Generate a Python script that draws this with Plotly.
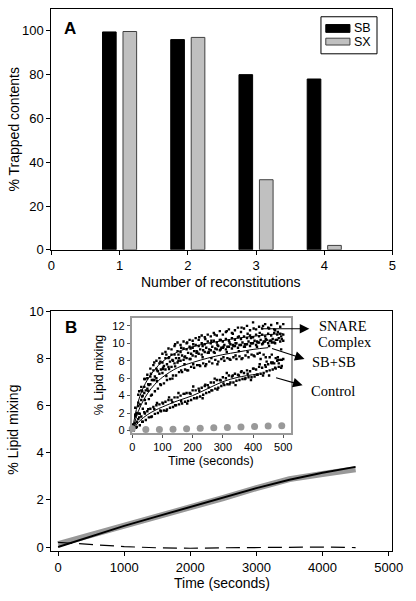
import plotly.graph_objects as go

W, H = 416, 601

# ---------------- Panel A data ----------------
recon = [1, 2, 3, 4]
sb_vals = [99.5, 96.0, 80.0, 78.0]
sx_vals = [99.7, 97.0, 32.0, 2.0]

# ---------------- Panel B main data ----------------
t_long = [0, 500, 1000, 1500, 2000, 2500, 3000, 3500, 4000, 4500]
mix_black = [0.0, 0.45, 0.9, 1.3, 1.7, 2.1, 2.5, 2.85, 3.15, 3.4]
mix_gray = [0.12, 0.5, 0.88, 1.28, 1.68, 2.08, 2.5, 2.88, 3.1, 3.3]
mix_dash = [0.2, 0.1, 0.02, -0.03, -0.05, -0.03, -0.02, 0.0, 0.0, -0.02]

# ---------------- Inset data ----------------
T1 = [0, 10, 20, 30, 40, 50, 60, 70, 80, 90, 100, 110, 120, 130, 140, 150, 160, 170, 180, 190,
      200, 210, 220, 230, 240, 250, 260, 270, 280, 290, 300, 310, 320, 330, 340, 350, 360, 370,
      380, 390, 400, 410, 420, 430, 440, 450, 460, 470, 480, 490, 500]
T2 = [5, 15, 25, 35, 45, 55, 65, 75, 85, 95, 105, 115, 125, 135, 145, 155, 165, 175, 185, 195,
      205, 215, 225, 235, 245, 255, 265, 275, 285, 295, 305, 315, 325, 335, 345, 355, 365, 375,
      385, 395, 405, 415, 425, 435, 445, 455, 465, 475, 485, 495]
T3 = [2, 12, 23, 33, 42, 53, 62, 73, 82, 93, 102, 113, 122, 133, 142, 153, 162, 173, 182, 193,
      202, 213, 222, 233, 242, 253, 262, 273, 282, 293, 302, 313, 322, 333, 342, 353, 362, 373,
      382, 393, 402, 413, 422, 433, 442, 453, 462, 473, 482, 493]

snare_a = [0.3, 2.6, 4.1, 5.0, 5.9, 6.4, 7.1, 7.5, 8.0, 8.3, 8.8, 9.0, 9.4, 9.3, 9.7, 10.1, 9.8,
           10.2, 10.0, 10.4, 10.3, 10.6, 10.4, 10.9, 10.7, 11.0, 10.8, 11.2, 10.9, 11.4, 11.0,
           11.3, 11.6, 11.2, 11.5, 11.8, 11.3, 11.7, 12.0, 11.5, 12.4, 11.6, 11.9, 11.7, 12.2,
           11.8, 12.1, 11.6, 12.3, 11.9, 12.2]
snare_b = [0.1, 1.8, 3.2, 4.6, 5.0, 6.0, 6.2, 6.9, 7.1, 7.7, 7.8, 8.3, 8.3, 8.7, 8.7, 9.1, 9.0,
           9.4, 9.3, 9.6, 9.5, 9.8, 9.7, 10.0, 9.9, 10.2, 10.0, 10.3, 10.1, 10.4, 10.2, 10.5,
           10.3, 10.6, 10.4, 10.7, 10.5, 10.8, 10.6, 10.9, 10.7, 11.0, 10.8, 11.0, 10.8, 11.1,
           10.9, 11.2, 11.0, 11.1, 11.0]
snare_c = [0.5, 2.0, 3.0, 4.0, 4.6, 5.2, 5.8, 6.2, 6.8, 7.0, 7.4, 7.6, 7.9, 8.0, 8.3, 8.3, 8.6,
           8.5, 8.9, 8.8, 9.1, 9.0, 9.3, 9.2, 9.5, 9.3, 9.6, 9.4, 9.7, 9.5, 9.8, 9.6, 9.9, 9.7,
           10.0, 9.8, 10.1, 9.9, 10.2, 10.0, 10.3, 10.1, 10.4, 10.2, 10.4, 10.3, 10.5, 10.4,
           10.6, 10.5]
snare_d = [0.7, 1.8, 4.5, 4.5, 5.9, 5.3, 6.5, 7.8, 6.9, 7.9, 7.2, 8.7, 8.4, 8.1, 9.9, 8.7, 9.5,
           8.4, 10.1, 9.4, 9.9, 9.1, 10.7, 9.7, 10.5, 9.0, 10.3, 11.0, 9.8, 10.4, 9.6, 11.4, 10.1,
           11.1, 10.0, 10.8, 11.8, 9.9, 11.1, 10.6, 11.7, 10.2, 11.2, 12.0, 10.5, 11.7, 10.1,
           11.5, 11.3, 10.8]

sbsb_a = [0.2, 1.6, 2.8, 3.5, 4.3, 4.8, 5.3, 5.8, 6.0, 6.5, 6.6, 7.0, 7.3, 7.3, 7.7, 7.8, 8.0,
          8.1, 8.3, 8.2, 8.6, 8.5, 8.8, 8.7, 9.0, 8.9, 9.2, 9.0, 9.3, 9.2, 9.5, 9.3, 9.6, 9.4,
          9.7, 9.5, 9.8, 9.6, 9.9, 9.7, 10.0, 9.8, 10.1, 9.9, 10.2, 10.0, 10.3, 10.1, 10.4,
          10.2, 10.3]
sbsb_b = [0.1, 1.0, 1.9, 2.5, 3.1, 3.6, 4.1, 4.5, 4.8, 5.2, 5.4, 5.8, 5.9, 6.3, 6.3, 6.7, 6.7,
          7.0, 6.9, 7.3, 7.2, 7.5, 7.4, 7.7, 7.6, 7.9, 7.7, 8.1, 7.9, 8.2, 8.0, 8.3, 8.1, 8.4,
          8.2, 8.5, 8.3, 8.6, 8.4, 8.7, 8.5, 8.8, 8.2, 8.7, 7.9, 8.4, 7.8, 8.3, 7.7, 8.1]
sbsb_c = [0.15, 1.8, 1.95, 3.9, 3.5, 4.55, 4.0, 5.8, 5.65, 5.3, 7.05, 6.25, 7.05, 5.95, 7.35,
          8.0, 6.9, 7.6, 6.9, 8.2, 7.6, 8.9, 7.5, 8.4, 7.4, 8.9, 8.3, 8.9, 7.6, 9.3, 8.4, 9.0,
          8.2, 9.8, 8.6, 9.1, 8.2, 9.6, 9.0, 10.0, 8.6, 9.6, 8.9, 10.0, 8.4, 9.7, 8.7, 10.0,
          8.4, 9.3]

ctl_a = [0.1, 0.8, 1.3, 1.6, 2.1, 2.2, 2.5, 2.7, 2.9, 3.0, 3.2, 3.3, 3.5, 3.5, 3.8, 3.8, 4.0,
         4.2, 4.3, 4.3, 4.6, 4.6, 4.8, 4.9, 5.1, 5.2, 5.5, 5.5, 5.8, 5.8, 6.1, 6.0, 6.3, 6.2,
         6.5, 6.4, 6.7, 6.6, 6.9, 6.8, 7.1, 7.0, 7.3, 7.2, 7.5, 7.6, 7.8, 7.7, 8.0, 8.1, 8.2]
ctl_b = [0.0, 0.4, 0.6, 1.0, 1.2, 1.5, 1.6, 1.9, 2.0, 2.2, 2.3, 2.4, 2.6, 2.7, 2.9, 3.0, 3.1,
         3.3, 3.4, 3.5, 3.7, 3.8, 3.9, 4.1, 4.3, 4.4, 4.6, 4.8, 4.9, 5.1, 5.2, 5.3, 5.5, 5.5,
         5.7, 5.8, 5.9, 6.0, 6.1, 6.1, 6.2, 6.4, 6.5, 6.6, 6.8, 6.9, 7.0, 7.1, 7.3, 7.4]
ctl_c = [0.3, 0.3, 1.5, 1.0, 1.95, 2.45, 1.55, 2.45, 3.15, 2.3, 3.1, 2.25, 3.8, 3.25, 2.9, 4.3,
         3.35, 4.2, 3.1, 4.2, 5.05, 3.7, 4.55, 3.7, 5.25, 4.95, 4.6, 5.95, 4.7, 5.75, 5.4, 6.6,
         5.3, 6.3, 5.2, 6.3, 6.8, 5.9, 6.5, 5.8, 7.1, 6.4, 7.6, 6.3, 7.3, 6.3, 7.7, 7.2, 8.1,
         7.2]

fit_t_snare = [0, 25, 50, 75, 100, 150, 200, 250, 300, 350, 400, 450, 500]
fit_snare = [0, 3.9, 5.8, 7.0, 7.9, 9.0, 9.6, 10.0, 10.3, 10.6, 10.8, 11.0, 11.1]
fit_t_sbsb = [0, 25, 50, 75, 100, 150, 200, 250, 300, 350, 400, 450]
fit_sbsb = [0, 2.6, 4.2, 5.3, 6.1, 7.2, 7.8, 8.3, 8.7, 9.0, 9.3, 9.5]
fit_t_ctl = [0, 25, 50, 75, 100, 150, 200, 250, 300, 350, 420]
fit_ctl = [0, 1.1, 1.8, 2.3, 2.7, 3.4, 4.0, 4.8, 5.6, 6.1, 6.5]

dots_t = [0, 45, 90, 135, 180, 225, 270, 315, 360, 405, 450, 495]
dots_y = [0.2, 0.1, 0.1, 0.15, 0.2, 0.25, 0.3, 0.35, 0.4, 0.45, 0.5, 0.55]

SCATTER = [(T1, snare_a), (T1, snare_b), (T2, snare_c), (T3, snare_d),
           (T1, sbsb_a), (T2, sbsb_b), (T3, sbsb_c),
           (T1, ctl_a), (T2, ctl_b), (T3, ctl_c)]
for a, b in SCATTER:
    assert len(a) == len(b), (len(a), len(b))

FONT = "Arial, Liberation Sans, sans-serif"
SERIF = "Times New Roman, Liberation Serif, serif"


def px(x):
    return x / W


def py(y):
    return 1 - y / H


fig = go.Figure()

# Panel A bars
fig.add_trace(go.Bar(x=recon, y=sb_vals, width=0.2, offset=-0.25, name="SB",
                     marker=dict(color="black", line=dict(color="black", width=1)),
                     xaxis="x", yaxis="y", showlegend=False))
fig.add_trace(go.Bar(x=recon, y=sx_vals, width=0.2, offset=0.05, name="SX",
                     marker=dict(color="#c0c0c0", line=dict(color="#404040", width=1)),
                     xaxis="x", yaxis="y", showlegend=False))

# Panel B main lines
fig.add_trace(go.Scatter(x=t_long, y=mix_gray, mode="lines", line=dict(color="#999999", width=6),
                         xaxis="x2", yaxis="y2", showlegend=False))
fig.add_trace(go.Scatter(x=t_long, y=mix_black, mode="lines", line=dict(color="black", width=2),
                         xaxis="x2", yaxis="y2", showlegend=False))
fig.add_trace(go.Scatter(x=t_long, y=mix_dash, mode="lines",
                         line=dict(color="black", width=1.2, dash="14px,7px"),
                         xaxis="x2", yaxis="y2", showlegend=False))

# Inset scatter
mk = dict(color="black", size=2.4, symbol="square")
for tt, yy in SCATTER:
    fig.add_trace(go.Scatter(x=tt, y=yy, mode="markers", marker=mk,
                             xaxis="x3", yaxis="y3", showlegend=False))
for tt, yy in [(fit_t_snare, fit_snare), (fit_t_sbsb, fit_sbsb), (fit_t_ctl, fit_ctl)]:
    fig.add_trace(go.Scatter(x=tt, y=yy, mode="lines", line=dict(color="black", width=1, shape="spline"),
                             xaxis="x3", yaxis="y3", showlegend=False))
fig.add_trace(go.Scatter(x=dots_t, y=dots_y, mode="markers",
                         marker=dict(color="#999999", size=7),
                         xaxis="x3", yaxis="y3", showlegend=False, cliponaxis=False))

ax_common = dict(showline=True, linecolor="black", linewidth=1, mirror=True,
                 ticks="outside", ticklen=4, tickcolor="black", showgrid=False, zeroline=False,
                 tickfont=dict(family=FONT, size=13, color="black"))

fig.update_layout(
    width=W, height=H, margin=dict(l=0, r=0, t=0, b=0),
    paper_bgcolor="white", plot_bgcolor="white", barmode="overlay",
    xaxis=dict(domain=[px(49), px(402)], range=[0, 5], tickvals=[0, 1, 2, 3, 4, 5],
               anchor="y", **ax_common),
    yaxis=dict(domain=[py(249), py(2)], range=[0, 110], tickvals=[0, 20, 40, 60, 80, 100],
               anchor="x", **ax_common),
    xaxis2=dict(domain=[px(49), px(402)], range=[-102, 5058],
                tickvals=[0, 1000, 2000, 3000, 4000, 5000], anchor="y2", **ax_common),
    yaxis2=dict(domain=[py(558), py(312)], range=[-0.17, 10], tickvals=[0, 2, 4, 6, 8, 10],
                anchor="x2", **ax_common),
    xaxis3=dict(domain=[px(132), px(297)], range=[-2.2, 525.6], tickvals=[0, 100, 200, 300, 400, 500],
                anchor="y3", showline=True, linecolor="#9a9a9a", linewidth=1.5, mirror=True,
                ticks="outside", ticklen=3, tickcolor="#555555", showgrid=False, zeroline=False,
                tickfont=dict(family=FONT, size=11, color="black")),
    yaxis3=dict(domain=[py(437), py(319)], range=[-0.3, 12.9], tickvals=[0, 2, 4, 6, 8, 10, 12],
                anchor="x3", showline=True, linecolor="#9a9a9a", linewidth=1.5, mirror=True,
                ticks="outside", ticklen=3, tickcolor="#555555", showgrid=False, zeroline=False,
                tickfont=dict(family=FONT, size=11, color="black")),
)

annotations = []


def text(x, y, s, size=14, family=FONT, angle=0, bold=False, xanchor="center"):
    annotations.append(dict(x=px(x), y=py(y), xref="paper", yref="paper", text=(f"<b>{s}</b>" if bold else s),
                            showarrow=False, textangle=angle, xanchor=xanchor, yanchor="middle",
                            borderpad=0, font=dict(family=family, size=size, color="black")))


# Panel labels
text(68, 22, "A", size=17, bold=True)
text(69, 329, "B", size=17, bold=True)
# Axis titles
text(10, 125, "% Trapped contents", size=14, angle=-90)
text(225, 282, "Number of reconstitutions", size=14)
text(10, 434, "% Lipid mixing", size=14, angle=-90)
text(226, 591, "Time (seconds)", size=14)
text(98, 377, "% Lipid mixing", size=12.5, angle=-90)
text(214, 466, "Time (seconds)", size=12.5)
# Legend text
text(361, 21.5, "SB", size=12.5, xanchor="left")
text(361, 35.5, "SX", size=12.5, xanchor="left")
# Inset labels (serif)
text(351, 327, "SNARE", size=14.5, family=SERIF)
text(353, 344, "Complex", size=14.5, family=SERIF)
text(341, 364, "SB+SB", size=14.5, family=SERIF)
text(340, 394, "Control", size=14.5, family=SERIF)


def arrow(x0, y0, x1, y1):
    annotations.append(dict(x=px(x1), y=py(y1), xref="paper", yref="paper", ax=x0 - x1, ay=y0 - y1,
                            axref="pixel", ayref="pixel", text="", showarrow=True, arrowhead=2,
                            arrowsize=1.6, arrowwidth=1.2, arrowcolor="black"))


arrow(267, 330, 316, 330)
arrow(277, 350, 311, 361)
arrow(281, 380, 309, 388)

fig.update_layout(annotations=annotations)

# Legend box and swatches
shapes = [
    dict(type="rect", xref="paper", yref="paper", x0=px(328), x1=px(386), y0=py(48), y1=py(10),
         line=dict(color="black", width=1), fillcolor="white"),
    dict(type="rect", xref="paper", yref="paper", x0=px(333), x1=px(358), y0=py(26), y1=py(18),
         line=dict(color="black", width=1), fillcolor="black"),
    dict(type="rect", xref="paper", yref="paper", x0=px(333), x1=px(358), y0=py(39), y1=py(32),
         line=dict(color="#404040", width=1), fillcolor="#c0c0c0"),
]
fig.update_layout(shapes=shapes)

fig.write_html("out.html", config={"displayModeBar": False},
               post_script="document.body.style.margin='0px';document.body.style.overflow='hidden';")
